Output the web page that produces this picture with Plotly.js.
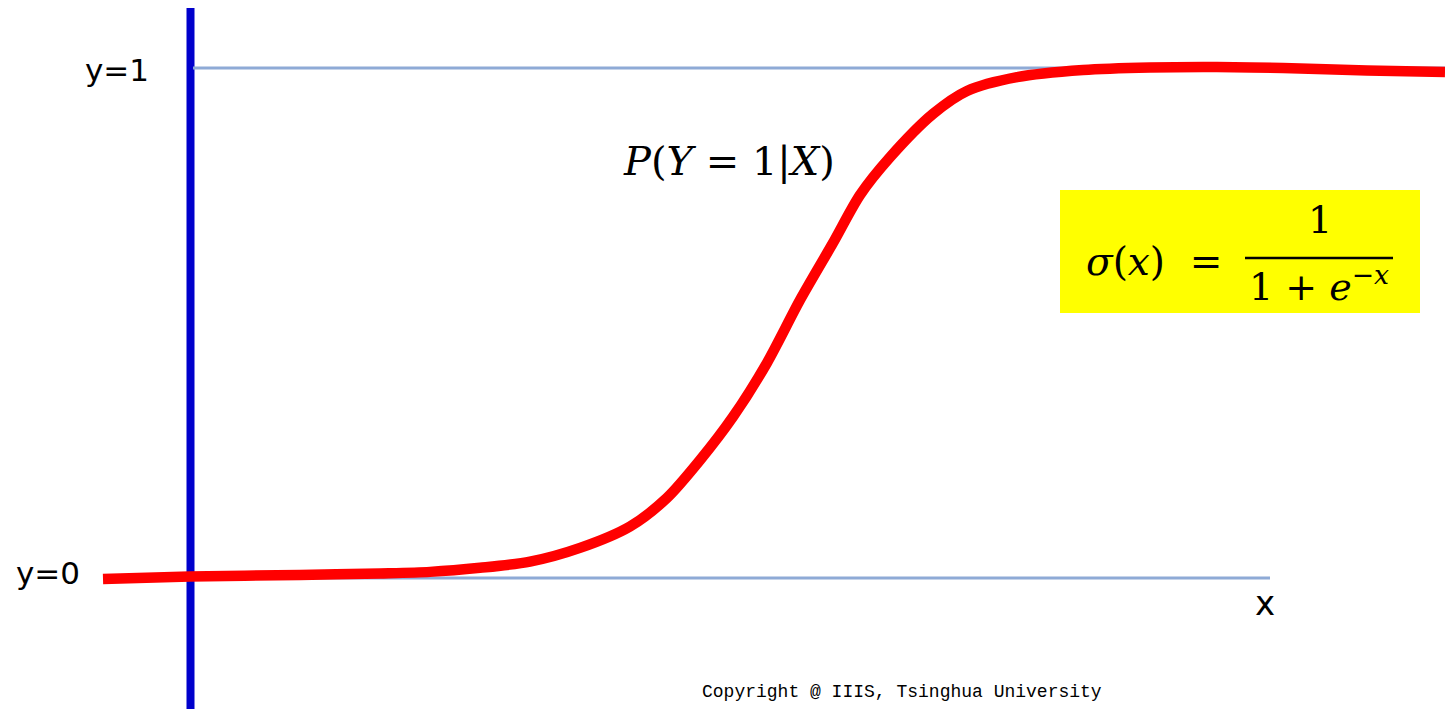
<!DOCTYPE html>
<html>
<head>
<meta charset="utf-8">
<script src="https://cdn.plot.ly/plotly-3.0.1.min.js"></script>
<style>html,body{margin:0;padding:0;background:#fff;}#chart{width:1445px;height:709px;}</style>
</head>
<body>
<div id="chart"></div>
<script>
// Sigmoid-like curve P(Y=1|X) (x: blue axis at 0; y: 0..1 levels)
const curveX = [-0.87, 0.00, 1.10, 1.90, 2.40, 2.90, 3.40, 3.90, 4.40, 4.77, 5.10, 5.43, 5.77, 6.10, 6.43, 6.70, 7.00, 7.43, 7.77, 8.27, 8.93, 9.60, 10.27, 10.93, 11.77, 12.55];
const curveY = [-0.002, 0.003, 0.006, 0.009, 0.012, 0.020, 0.032, 0.059, 0.101, 0.157, 0.231, 0.316, 0.422, 0.545, 0.657, 0.751, 0.825, 0.910, 0.955, 0.982, 0.996, 1.001, 1.002, 1.000, 0.995, 0.992];

// Reference levels and labels
const levelValues = [0, 1];
const levelLabels = ["y=0", "y=1"];
const axisLabel = "x";
const curveLabel = "<i>P</i>(<i>Y</i> = 1|<i>X</i>)";
const formulaLeft = "<i>σ</i>(<i>x</i>)&nbsp; =";
const formulaNum = "1";
const formulaDen = "1 + <i>e</i><sup>−<i>x</i></sup>";
const copyrightText = "Copyright @ IIIS, Tsinghua University";

const W = 1445, H = 709;
const px = v => v / W;
const py = v => 1 - v / H;

const trace = {
  x: curveX, y: curveY, type: 'scatter', mode: 'lines',
  line: {color: '#ff0000', width: 10.5, shape: 'spline', smoothing: 0.8},
  hoverinfo: 'skip', showlegend: false
};

const lineColor = '#8eaad6';
const shapes = [
  {type: 'line', xref: 'x', yref: 'y', x0: 0.03, x1: 12.6, y0: levelValues[1], y1: levelValues[1], line: {color: lineColor, width: 3}, layer: 'below'},
  {type: 'line', xref: 'x', yref: 'y', x0: 0.0, x1: 10.8, y0: levelValues[0], y1: levelValues[0], line: {color: lineColor, width: 3}, layer: 'below'},
  {type: 'line', xref: 'x', yref: 'paper', x0: 0.005, x1: 0.005, y0: 0, y1: py(8), line: {color: '#0000cc', width: 8}, layer: 'below'},
  {type: 'rect', xref: 'paper', yref: 'paper', x0: px(1060), x1: px(1420), y0: py(313), y1: py(190), fillcolor: '#ffff00', line: {width: 0}, layer: 'below'},
  {type: 'line', xref: 'paper', yref: 'paper', x0: px(1245), x1: px(1393), y0: py(258), y1: py(258), line: {color: '#000000', width: 2.5}, layer: 'above'}
];

const sans = 'DejaVu Sans, sans-serif';
const serif = 'DejaVu Serif, serif';
function ann(text, x, y, font, size, xanchor) {
  return {text: text, xref: 'paper', yref: 'paper', x: px(x), y: py(y), showarrow: false,
    xanchor: xanchor || 'center', yanchor: 'middle', font: {family: font, size: size, color: '#000000'}};
}
const annotations = [
  ann(levelLabels[1], 117, 70, sans, 31),
  ann(levelLabels[0], 48, 573, sans, 31),
  ann(axisLabel, 1265, 603, sans, 34),
  ann(curveLabel, 729, 161, serif, 40),
  ann(formulaLeft, 1084, 261, serif, 39, 'left'),
  ann(formulaNum, 1320, 220, serif, 38),
  ann(formulaDen, 1319, 284, serif, 38)
];
annotations.push(ann(copyrightText, 902, 692, 'Liberation Mono, monospace', 18));

const layout = {
  width: W, height: H,
  margin: {l: 0, r: 0, t: 0, b: 0, pad: 0},
  paper_bgcolor: '#ffffff', plot_bgcolor: '#ffffff',
  xaxis: {range: [-1.9, 12.55], visible: false, showgrid: false, zeroline: false, fixedrange: true},
  yaxis: {range: [-131/510, 578/510], visible: false, showgrid: false, zeroline: false, fixedrange: true},
  shapes: shapes, annotations: annotations, showlegend: false
};

Plotly.newPlot('chart', [trace], layout, {displayModeBar: false, staticPlot: true});
</script>
</body>
</html>
